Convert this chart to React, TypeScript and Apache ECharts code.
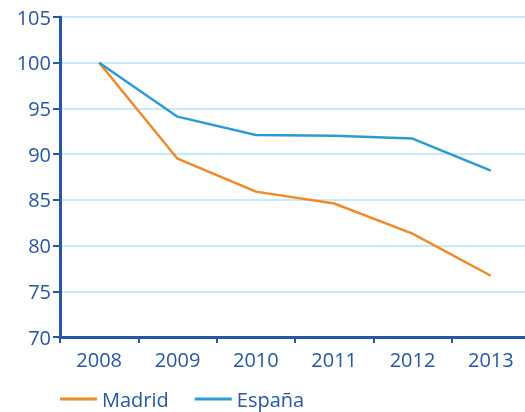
import React, { useEffect, useRef } from "react";
import * as echarts from "echarts";

const years = ["2008", "2009", "2010", "2011", "2012", "2013"];
const madrid = [100, 89.5, 85.9, 84.6, 81.3, 76.7];
const espana = [100, 94.1, 92.1, 92.0, 91.7, 88.2];

const AXIS = "#2756a6";
const FONT = "Open Sans";

export default function App() {
  const ref = useRef<HTMLDivElement>(null);
  useEffect(() => {
    if (!ref.current) return;
    const chart = echarts.init(ref.current, undefined, { renderer: "svg" });
    chart.setOption({
      animation: false,
      grid: { left: 60, top: 17, width: 470, bottom: 75, containLabel: false },
      legend: {
        left: 55,
        top: 384,
        itemWidth: 37,
        itemHeight: 3,
        itemGap: 26,
        icon: "rect",
        textStyle: { color: AXIS, fontSize: 20, fontFamily: FONT },
        data: ["Madrid", "España"],
      },
      xAxis: {
        type: "category",
        data: years,
        boundaryGap: true,
        axisLine: { lineStyle: { color: AXIS, width: 3 } },
        axisTick: { show: true, length: 6, lineStyle: { color: AXIS, width: 2 } },
        axisLabel: { color: AXIS, fontSize: 20, fontFamily: FONT, margin: 12 },
        splitLine: { show: false },
      },
      yAxis: {
        type: "value",
        min: 70,
        max: 105,
        interval: 5,
        axisLine: { show: true, lineStyle: { color: AXIS, width: 3 } },
        axisTick: { show: true, length: 7, lineStyle: { color: AXIS, width: 2 } },
        axisLabel: { color: AXIS, fontSize: 20, fontFamily: FONT, margin: 9 },
        splitLine: { show: true, lineStyle: { color: "#b3e3f7", width: 1.5 } },
      },
      series: [
        {
          name: "Madrid",
          type: "line",
          data: madrid,
          symbol: "none",
          lineStyle: { color: "#f28a2a", width: 2.5 },
          itemStyle: { color: "#f28a2a" },
        },
        {
          name: "España",
          type: "line",
          data: espana,
          symbol: "none",
          lineStyle: { color: "#2a9bd7", width: 2.5 },
          itemStyle: { color: "#2a9bd7" },
        },
      ],
    });
    return () => chart.dispose();
  }, []);
  return (
    <div
      ref={ref}
      style={{ position: "fixed", left: 0, top: 0, width: 532, height: 412 }}
    />
  );
}
